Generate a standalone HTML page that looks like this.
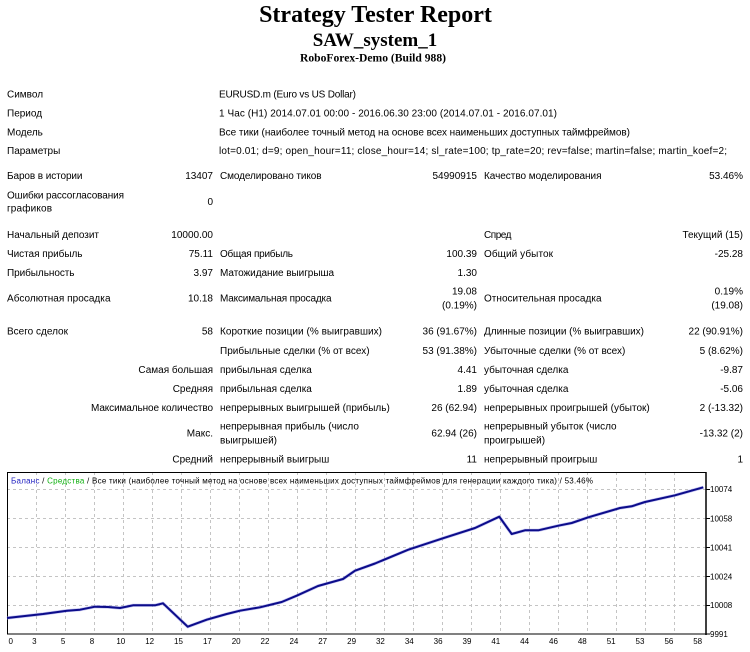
<!DOCTYPE html>
<html><head><meta charset="utf-8"><style>
html,body{margin:0;padding:0;background:#fff;}
svg{display:block;}
.t{font-family:"Liberation Sans","DejaVu Sans",sans-serif;font-size:10px;fill:#000;}
.r{text-anchor:end;}
.c{font-family:"Liberation Sans","DejaVu Sans",sans-serif;font-size:8px;fill:#000;}
.h{font-family:"Liberation Serif","DejaVu Serif",serif;font-weight:bold;fill:#000;text-anchor:middle;}
</style></head><body>
<svg width="750" height="652" viewBox="0 0 750 652" xmlns="http://www.w3.org/2000/svg">
<rect width="750" height="652" fill="#fff"/>
<text class="h" x="375.5" y="22" font-size="24">Strategy Tester Report</text>
<text class="h" x="375" y="46" font-size="19" textLength="124.5" lengthAdjust="spacingAndGlyphs">SAW_system_1</text>
<text class="h" x="373" y="61.5" font-size="12" textLength="146" lengthAdjust="spacingAndGlyphs">RoboForex-Demo (Build 988)</text>

<text class="t" x="7" y="97.5">Символ</text>
<text class="t" x="219" y="97.5" textLength="137">EURUSD.m (Euro vs US Dollar)</text>
<text class="t" x="7" y="116.5">Период</text>
<text class="t" x="219" y="116.5" textLength="338">1 Час (H1) 2014.07.01 00:00 - 2016.06.30 23:00 (2014.07.01 - 2016.07.01)</text>
<text class="t" x="7" y="135.5">Модель</text>
<text class="t" x="219" y="135.5" textLength="411">Все тики (наиболее точный метод на основе всех наименьших доступных таймфреймов)</text>
<text class="t" x="7" y="154">Параметры</text>
<text class="t" x="219" y="154" textLength="508">lot=0.01; d=9; open_hour=11; close_hour=14; sl_rate=100; tp_rate=20; rev=false; martin=false; martin_koef=2;</text>

<text class="t" x="7" y="179" textLength="75.5">Баров в истории</text>
<text class="t r" x="213" y="179">13407</text>
<text class="t" x="220" y="179" textLength="101.5">Смоделировано тиков</text>
<text class="t r" x="477" y="179">54990915</text>
<text class="t" x="484" y="179" textLength="117.5">Качество моделирования</text>
<text class="t r" x="743" y="179">53.46%</text>

<text class="t" x="7" y="198.5" textLength="117">Ошибки рассогласования</text>
<text class="t" x="7" y="211.5" textLength="45">графиков</text>
<text class="t r" x="213" y="205">0</text>

<text class="t" x="7" y="238" textLength="92">Начальный депозит</text>
<text class="t r" x="213" y="238">10000.00</text>
<text class="t" x="484" y="238" textLength="27.5">Спред</text>
<text class="t r" x="743" y="238">Текущий (15)</text>

<text class="t" x="7" y="257" textLength="75.5">Чистая прибыль</text>
<text class="t r" x="213" y="257">75.11</text>
<text class="t" x="220" y="257" textLength="73">Общая прибыль</text>
<text class="t r" x="477" y="257">100.39</text>
<text class="t" x="484" y="257" textLength="69">Общий убыток</text>
<text class="t r" x="743" y="257">-25.28</text>

<text class="t" x="7" y="276" textLength="67.5">Прибыльность</text>
<text class="t r" x="213" y="276">3.97</text>
<text class="t" x="220" y="276" textLength="114">Матожидание выигрыша</text>
<text class="t r" x="477" y="276">1.30</text>

<text class="t" x="7" y="301.5" textLength="103.5">Абсолютная просадка</text>
<text class="t r" x="213" y="301.5">10.18</text>
<text class="t" x="220" y="301.5" textLength="111.5">Максимальная просадка</text>
<text class="t r" x="477" y="294.5">19.08</text>
<text class="t r" x="477" y="308.5">(0.19%)</text>
<text class="t" x="484" y="301.5" textLength="117.5">Относительная просадка</text>
<text class="t r" x="743" y="294.5">0.19%</text>
<text class="t r" x="743" y="308.5">(19.08)</text>

<text class="t" x="7" y="334.5" textLength="61">Всего сделок</text>
<text class="t r" x="213" y="334.5">58</text>
<text class="t" x="220" y="334.5" textLength="162">Короткие позиции (% выигравших)</text>
<text class="t r" x="477" y="334.5">36 (91.67%)</text>
<text class="t" x="484" y="334.5" textLength="160">Длинные позиции (% выигравших)</text>
<text class="t r" x="743" y="334.5">22 (90.91%)</text>

<text class="t" x="220" y="354">Прибыльные сделки (% от всех)</text>
<text class="t r" x="477" y="354">53 (91.38%)</text>
<text class="t" x="484" y="354">Убыточные сделки (% от всех)</text>
<text class="t r" x="743" y="354">5 (8.62%)</text>

<text class="t r" x="213" y="373">Самая большая</text>
<text class="t" x="220" y="373">прибыльная сделка</text>
<text class="t r" x="477" y="373">4.41</text>
<text class="t" x="484" y="373">убыточная сделка</text>
<text class="t r" x="743" y="373">-9.87</text>

<text class="t r" x="213" y="392">Средняя</text>
<text class="t" x="220" y="392">прибыльная сделка</text>
<text class="t r" x="477" y="392">1.89</text>
<text class="t" x="484" y="392">убыточная сделка</text>
<text class="t r" x="743" y="392">-5.06</text>

<text class="t r" x="213" y="411" textLength="122">Максимальное количество</text>
<text class="t" x="220" y="411">непрерывных выигрышей (прибыль)</text>
<text class="t r" x="477" y="411">26 (62.94)</text>
<text class="t" x="484" y="411">непрерывных проигрышей (убыток)</text>
<text class="t r" x="743" y="411">2 (-13.32)</text>

<text class="t r" x="213" y="436.5">Макс.</text>
<text class="t" x="220" y="429.5">непрерывная прибыль (число</text>
<text class="t" x="220" y="443.5">выигрышей)</text>
<text class="t r" x="477" y="436.5">62.94 (26)</text>
<text class="t" x="484" y="429.5">непрерывный убыток (число</text>
<text class="t" x="484" y="443.5">проигрышей)</text>
<text class="t r" x="743" y="436.5">-13.32 (2)</text>

<text class="t r" x="213" y="462.5">Средний</text>
<text class="t" x="220" y="462.5">непрерывный выигрыш</text>
<text class="t r" x="477" y="462.5">11</text>
<text class="t" x="484" y="462.5">непрерывный проигрыш</text>
<text class="t r" x="743" y="462.5">1</text>

<!-- chart -->
<g stroke="#c4c4c4" stroke-width="1" stroke-dasharray="3,3" fill="none">
<path d="M36.5 472V634M65.5 472V634M94.5 472V634M123.5 472V634M152.5 472V634M181.5 472V634M210.5 472V634M239.5 472V634M268.5 472V634M297.5 472V634M326.5 472V634M355.5 472V634M384.5 472V634M413.5 472V634M442.5 472V634M471.5 472V634M500.5 472V634M529.5 472V634M558.5 472V634M587.5 472V634M616.5 472V634M645.5 472V634M674.5 472V634"/>
<path d="M7 489.5H706M7 518.5H706M7 547.5H706M7 576.5H706M7 605.5H706"/>
</g>
<rect x="7.5" y="472.5" width="698.5" height="161.5" fill="none" stroke="#000" stroke-width="1"/>
<line x1="706" y1="472" x2="706" y2="635" stroke="#000" stroke-width="1.5"/>
<g stroke="#000" stroke-width="1">
<path d="M706 489.5H710M706 518.5H710M706 547.5H710M706 576.5H710M706 605.5H710M706 634H710"/>
</g>
<polyline fill="none" stroke="#9a9ae8" stroke-width="3.2" stroke-linejoin="round" opacity="0.6" points="7,618 43,614 67,610.7 80,609.7 95,606.7 108,607 120,608 133,605.3 155,605.3 163,603.3 187.7,626.7 206.7,619.7 226.7,614 240,610.7 260,607.3 281.7,602 296.7,595.7 318,586 343,579 355,570.7 375,563.5 408.3,549.7 441.7,538.7 475,528 499.3,516.7 511.7,534 525,530.3 538.3,530.3 558.3,525.7 571.7,523 588.3,517.3 620,508 631.7,506.3 645,502 675,495.3 703.3,487.3"/>
<polyline fill="none" stroke="#0c0c8a" stroke-width="2" stroke-linejoin="round" points="7,618 43,614 67,610.7 80,609.7 95,606.7 108,607 120,608 133,605.3 155,605.3 163,603.3 187.7,626.7 206.7,619.7 226.7,614 240,610.7 260,607.3 281.7,602 296.7,595.7 318,586 343,579 355,570.7 375,563.5 408.3,549.7 441.7,538.7 475,528 499.3,516.7 511.7,534 525,530.3 538.3,530.3 558.3,525.7 571.7,523 588.3,517.3 620,508 631.7,506.3 645,502 675,495.3 703.3,487.3"/>

<text class="c" x="11" y="483.5" textLength="582"><tspan fill="#2020c0">Баланс</tspan> / <tspan fill="#10b010">Средства</tspan> / Все тики (наиболее точный метод на основе всех наименьших доступных таймфреймов для генерации каждого тика) / 53.46%</text>

<g class="c">
<text x="710" y="492">10074</text>
<text x="710" y="521.5">10058</text>
<text x="710" y="550.5">10041</text>
<text x="710" y="579.5">10024</text>
<text x="710" y="608">10008</text>
<text x="710" y="637">9991</text>
</g>
<g class="c" text-anchor="middle">
<text x="10.7" y="644">0</text>
<text x="34.3" y="644">3</text>
<text x="63.1" y="644">5</text>
<text x="92" y="644">8</text>
<text x="120.8" y="644">10</text>
<text x="149.7" y="644">12</text>
<text x="178.5" y="644">15</text>
<text x="207.4" y="644">17</text>
<text x="236.2" y="644">20</text>
<text x="265" y="644">22</text>
<text x="293.9" y="644">24</text>
<text x="322.7" y="644">27</text>
<text x="351.6" y="644">29</text>
<text x="380.4" y="644">32</text>
<text x="409.3" y="644">34</text>
<text x="438.1" y="644">36</text>
<text x="467" y="644">39</text>
<text x="495.8" y="644">41</text>
<text x="524.6" y="644">44</text>
<text x="553.5" y="644">46</text>
<text x="582.3" y="644">48</text>
<text x="611.2" y="644">51</text>
<text x="640" y="644">53</text>
<text x="668.9" y="644">56</text>
<text x="697.7" y="644">58</text>
</g>
</svg>
</body></html>
